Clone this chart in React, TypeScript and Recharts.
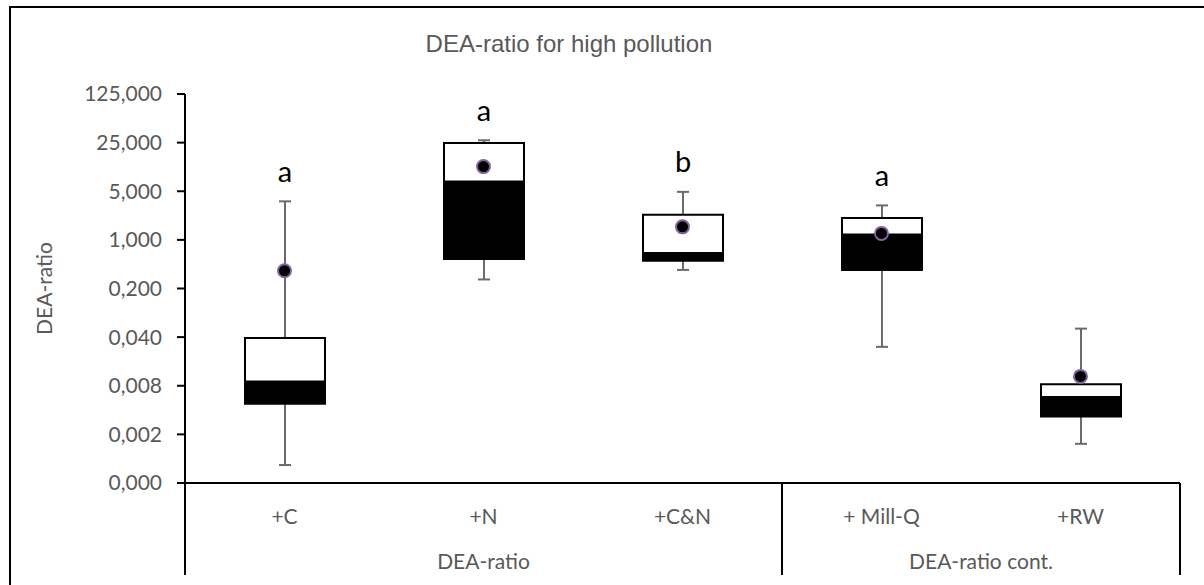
import {
  Bar,
  ComposedChart,
  LabelList,
  Line,
  XAxis,
  YAxis,
} from 'recharts';

// treatments (log-5 axis)
const categories = ['+C', '+N', '+C&N', '+ Mill-Q', '+RW'];
const groupNames = ['DEA-ratio', 'DEA-ratio cont.'];
const groupSizes = [3, 2];

const minValues = [0.00058, 0.27, 0.37, 0.029, 0.00117];
const q1Values = [0.0044, 0.53, 0.5, 0.37, 0.0029];
const medianValues = [0.0092, 6.9, 0.65, 1.19, 0.0055];
const q3Values = [0.0387, 24.7, 2.3, 2.06, 0.0084];
const maxValues = [3.58, 27.0, 4.9, 3.13, 0.053];
const meanValues = [0.36, 11.3, 1.54, 1.24, 0.0109];
const letters = ['a', 'a', 'b', 'a', ''];

const yTicks = [0.00032, 0.0016, 0.008, 0.04, 0.2, 1, 5, 25, 125];

const data = categories.map((name, i) => ({
  name,
  whisker: [minValues[i], maxValues[i]],
  lower: [q1Values[i], medianValues[i]],
  upper: [medianValues[i], q3Values[i]],
  mean: meanValues[i],
  letter: letters[i],
}));

const TICK_FONT = 'Lato, "Open Sans", sans-serif';
const GREY = '#595959';

const groupStarts = groupSizes.map((_, g) =>
  groupSizes.slice(0, g).reduce((a, b) => a + b, 0),
);

const WhiskerShape = (props: any) => {
  const { x, y, width, height } = props;
  const cx = x + width / 2;
  return (
    <g stroke="#6b6b6b" strokeWidth={2}>
      <line x1={cx} x2={cx} y1={y} y2={y + height} />
      <line x1={cx - 6} x2={cx + 6} y1={y} y2={y} />
      <line x1={cx - 6} x2={cx + 6} y1={y + height} y2={y + height} />
    </g>
  );
};

const LetterLabel = (props: any) => {
  const { x, y, width, value } = props;
  if (!value) return null;
  return (
    <text
      x={x + width / 2}
      y={y - 31}
      textAnchor="middle"
      dominantBaseline="central"
      fontFamily={TICK_FONT}
      fontSize={29}
      fill="#000"
    >
      {value}
    </text>
  );
};

const CategoryTick = (props: any) => {
  const { x, y, payload, index } = props;
  const half = payload?.offset || 99.5;
  const g = groupStarts.indexOf(index);
  const isLast = index === categories.length - 1;
  return (
    <g>
      <text
        x={x}
        y={y + 32}
        textAnchor="middle"
        dominantBaseline="central"
        fontFamily={TICK_FONT}
        fontSize={21}
        fill={GREY}
      >
        {payload.value}
      </text>
      {g >= 0 && (
        <>
          <line x1={x - half} x2={x - half} y1={y} y2={y + 92} stroke="#000" strokeWidth={2} />
          <text
            x={x - half + groupSizes[g] * half}
            y={y + 77}
            textAnchor="middle"
            dominantBaseline="central"
            fontFamily={TICK_FONT}
            fontSize={21}
            fill={GREY}
          >
            {groupNames[g]}
          </text>
        </>
      )}
      {isLast && (
        <line x1={x + half} x2={x + half} y1={y} y2={y + 92} stroke="#000" strokeWidth={2} />
      )}
    </g>
  );
};

const formatTick = (v: number) => v.toFixed(3).replace('.', ',');

export default function App() {
  return (
    <div
      style={{
        position: 'absolute',
        left: 0,
        top: 0,
        width: 1204,
        height: 585,
        overflow: 'hidden',
        background: '#fff',
      }}
    >
      <div
        style={{
          position: 'absolute',
          left: 9,
          top: 6,
          width: 1204,
          height: 600,
          borderLeft: '2px solid #000',
          borderTop: '2px solid #000',
        }}
      />
      <div
        style={{
          position: 'absolute',
          left: 0,
          width: 1138,
          top: 27,
          textAlign: 'center',
          fontFamily: '"Liberation Sans", Arial, sans-serif',
          fontSize: 24,
          color: GREY,
          lineHeight: '34px',
        }}
      >
        DEA-ratio for high pollution
      </div>
      <div style={{ position: 'absolute', left: 0, top: 0 }}>
        <ComposedChart
          width={1204}
          height={585}
          data={data}
          margin={{ top: 94, right: 24, bottom: 10, left: 30 }}
          barGap={-80}
        >
          <XAxis
            dataKey="name"
            height={92}
            axisLine={{ stroke: '#000', strokeWidth: 2 }}
            tickLine={false}
            tickSize={0}
            tickMargin={0}
            tick={<CategoryTick />}
            interval={0}
          />
          <YAxis
            scale="log"
            domain={[0.00032, 125]}
            ticks={yTicks}
            allowDataOverflow
            width={155}
            axisLine={{ stroke: '#000', strokeWidth: 2 }}
            tickLine={{ stroke: '#000', strokeWidth: 2 }}
            tickSize={8}
            tickMargin={15}
            tickFormatter={formatTick}
            tick={{ fill: GREY, fontSize: 21, fontFamily: TICK_FONT }}
            label={{
              value: 'DEA-ratio',
              angle: -90,
              position: 'insideLeft',
              offset: 15,
              style: { textAnchor: 'middle', fill: GREY, fontSize: 21, fontFamily: TICK_FONT },
            }}
          />
          <Bar dataKey="whisker" barSize={80} shape={<WhiskerShape />} isAnimationActive={false}>
            <LabelList dataKey="letter" content={<LetterLabel />} />
          </Bar>
          <Bar
            dataKey="lower"
            barSize={80}
            fill="#000"
            stroke="#000"
            strokeWidth={2}
            isAnimationActive={false}
          />
          <Bar
            dataKey="upper"
            barSize={80}
            fill="#fff"
            stroke="#000"
            strokeWidth={2}
            isAnimationActive={false}
          />
          <Line
            dataKey="mean"
            stroke="none"
            dot={{ r: 6.5, fill: '#000', stroke: '#8064a2', strokeWidth: 2 }}
            activeDot={false}
            isAnimationActive={false}
          />
        </ComposedChart>
      </div>
    </div>
  );
}
